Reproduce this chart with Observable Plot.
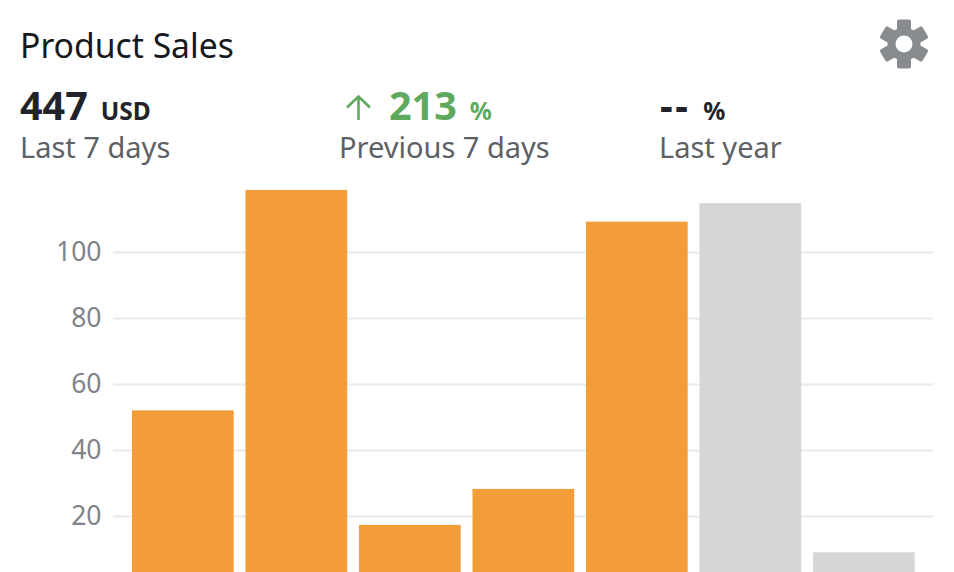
<!DOCTYPE html>
<html>
<head>
<meta charset="utf-8">
<script src="https://cdn.jsdelivr.net/npm/d3@7"></script>
<script src="https://cdn.jsdelivr.net/npm/@observablehq/plot@0.6"></script>
<style>
html,body{margin:0;padding:0;background:#fff;overflow:hidden;width:954px;height:572px;font-family:"Noto Sans",sans-serif}
#page{position:relative;width:954px;height:572px;overflow:hidden}
.t{position:absolute;white-space:nowrap;line-height:1}
.sub{color:#5d6166;font-size:29px;top:132px}
.big{font-weight:700;font-size:39.5px;top:86px}
.unit{font-weight:700;font-size:24.5px;margin-left:13px}
#chart{position:absolute;left:0;top:180px}
#chart svg{display:block;overflow:hidden}
</style>
</head>
<body>
<div id="page">
  <div class="t" style="left:20px;top:29px;font-size:33.7px;color:#16191d">Product Sales</div>
  <svg style="position:absolute;left:876px;top:16px" width="56" height="56" viewBox="-28 -28 56 56" aria-hidden="true">
    <g fill="#888b8f">
      <rect x="-7" y="-24.5" width="14" height="49" rx="2"/>
      <rect x="-7" y="-24.5" width="14" height="49" rx="2" transform="rotate(60)"/>
      <rect x="-7" y="-24.5" width="14" height="49" rx="2" transform="rotate(120)"/>
    </g>
    <circle r="12.5" fill="none" stroke="#888b8f" stroke-width="8"/>
    <circle r="8.5" fill="#fff"/>
  </svg>

  <div class="t big" style="left:20px;color:#20242a">447<span class="unit">USD</span></div>
  <div class="t sub" style="left:20px">Last 7 days</div>

  <svg style="position:absolute;left:344px;top:94px" width="30" height="28" viewBox="0 0 30 28" aria-hidden="true">
    <path d="M14.5 26V3M3 13.5L14.5 2.5L26 13.5" fill="none" stroke="#5fa95f" stroke-width="2.6"/>
  </svg>
  <div class="t big" style="left:389px;color:#5fa95f">213<span class="unit">%</span></div>
  <div class="t sub" style="left:339px">Previous 7 days</div>

  <div class="t big" style="left:660px;color:#20242a"><span style="letter-spacing:2.5px">--</span><span class="unit">%</span></div>
  <div class="t sub" style="left:659px">Last year</div>

  <div id="chart"></div>
</div>
<script>
const days = ["1", "2", "3", "4", "5", "6", "7"];
const sales = [52, 118.8, 17.3, 28.2, 109.2, 114.8, 9];
const periods = ["current", "current", "current", "current", "current", "prior", "prior"];
const yTicks = [20, 40, 60, 80, 100];
const rows = days.map((day, i) => ({day, value: sales[i], period: periods[i]}));

const plot = Plot.plot({
  width: 954,
  height: 392,
  marginLeft: 113,
  marginRight: 21,
  marginTop: 0,
  marginBottom: 0,
  style: {background: "#fff", fontFamily: '"Noto Sans",sans-serif', fontSize: "26.5px"},
  x: {type: "band", domain: days, range: [120.2, 926.5], padding: 0.104, round: false, axis: null},
  y: {domain: [0, 120], range: [402, 6], label: null},
  color: {domain: ["current", "prior"], range: ["#f39d38", "#d5d6d8"]},
  marks: [
    Plot.ruleY(yTicks, {stroke: "#e9eaeb", strokeWidth: 2}),
    Plot.barY(rows, {x: "day", y: "value", fill: "period"}),
    Plot.axisY(yTicks, {tickSize: 0, tickPadding: 12, anchor: "left", label: null, color: "#808387", fill: "#808387"})
  ]
});
document.getElementById("chart").appendChild(plot);
</script>
</body>
</html>
